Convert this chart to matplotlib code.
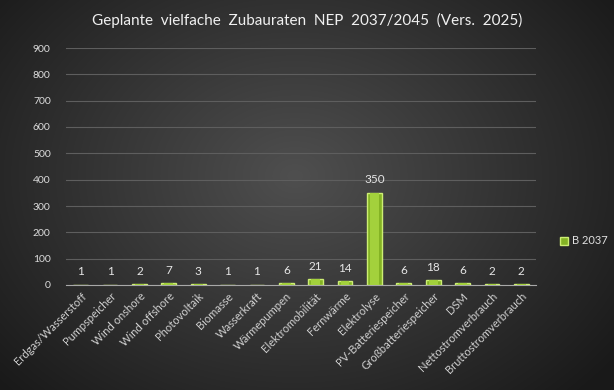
import numpy as np
import matplotlib
matplotlib.use("Agg")
from matplotlib import pyplot as plt
from matplotlib.patches import Patch

categories = [
    "Erdgas/Wasserstoff", "Pumpspeicher", "Wind onshore", "Wind offshore",
    "Photovoltaik", "Biomasse", "Wasserkraft", "Wärmepumpen",
    "Elektromobilität", "Fernwärme", "Elektrolyse", "PV-Batteriespeicher",
    "Großbatteriespeicher", "DSM", "Nettostromverbrauch", "Bruttostromverbrauch",
]
values_b2037 = [1, 1, 2, 7, 3, 1, 1, 6, 21, 14, 350, 6, 18, 6, 2, 2]
series_name = "B 2037"
title = "Geplante  vielfache  Zubauraten  NEP  2037/2045  (Vers.  2025)"

plt.rcParams["font.family"] = ["Lato", "DejaVu Sans"]

W, H = 614, 390
fig = plt.figure(figsize=(W / 100, H / 100), dpi=100)

# radial gradient background
yy, xx = np.mgrid[0:H, 0:W]
r = np.sqrt(((xx - W * 0.48) / (W * 0.62)) ** 2 + ((yy - H * 0.45) / (H * 0.75)) ** 2)
bg = np.clip(0.31 - 0.20 * r, 0.10, 0.31)
bg_ax = fig.add_axes([0, 0, 1, 1], zorder=-10)
bg_ax.imshow(np.dstack([bg, bg, bg]), aspect="auto", extent=[0, 1, 0, 1])
bg_ax.axis("off")

ax = fig.add_axes([66 / W, 1 - 285 / H, (536 - 66) / W, (285 - 48) / H])
ax.patch.set_alpha(0)

x = np.arange(len(categories))
ax.bar(x, values_b2037, width=0.5, color="#84b324",
       edgecolor="#cdee74", linewidth=1.0, zorder=3)
# lighter inner stripe, mimics the bevel
ax.bar(x, values_b2037, width=0.3, color="#a3d13c", linewidth=0, zorder=4)

for xi, v in zip(x, values_b2037):
    ax.text(xi, v + 28, str(v), ha="center", va="bottom",
            color="#e6e6e6", fontsize=8.5)

ax.set_xlim(-0.5, len(categories) - 0.5)
ax.set_ylim(0, 900)
ax.set_yticks(range(0, 901, 100))
ax.yaxis.grid(True, color="#5e5e5e", linewidth=0.8, zorder=0)
ax.set_axisbelow(True)
for side in ("top", "right", "left"):
    ax.spines[side].set_visible(False)
ax.spines["bottom"].set_color("#a8a8a8")
ax.tick_params(axis="both", length=0, colors="#dcdcdc", labelsize=7.5)
ax.tick_params(axis="y", pad=11)
ax.tick_params(axis="x", pad=4)
ax.set_xticks(x)
ax.set_xticklabels(categories, rotation=45, ha="right", rotation_mode="anchor",
                   color="#d0d0d0", fontsize=8)

fig.text(0.5, 1 - 20 / H, title, ha="center", va="center",
         color="#f0f0f0", fontsize=11)

fig.legend(handles=[Patch(facecolor="#84b324", edgecolor="#cdee74", label=series_name)],
           loc="center left", bbox_to_anchor=(550 / W, 1 - 241 / H),
           frameon=False, labelcolor="#e0e0e0", fontsize=8,
           handlelength=0.7, handleheight=0.7, handletextpad=0.4)

fig.savefig("out.png", dpi=100)
